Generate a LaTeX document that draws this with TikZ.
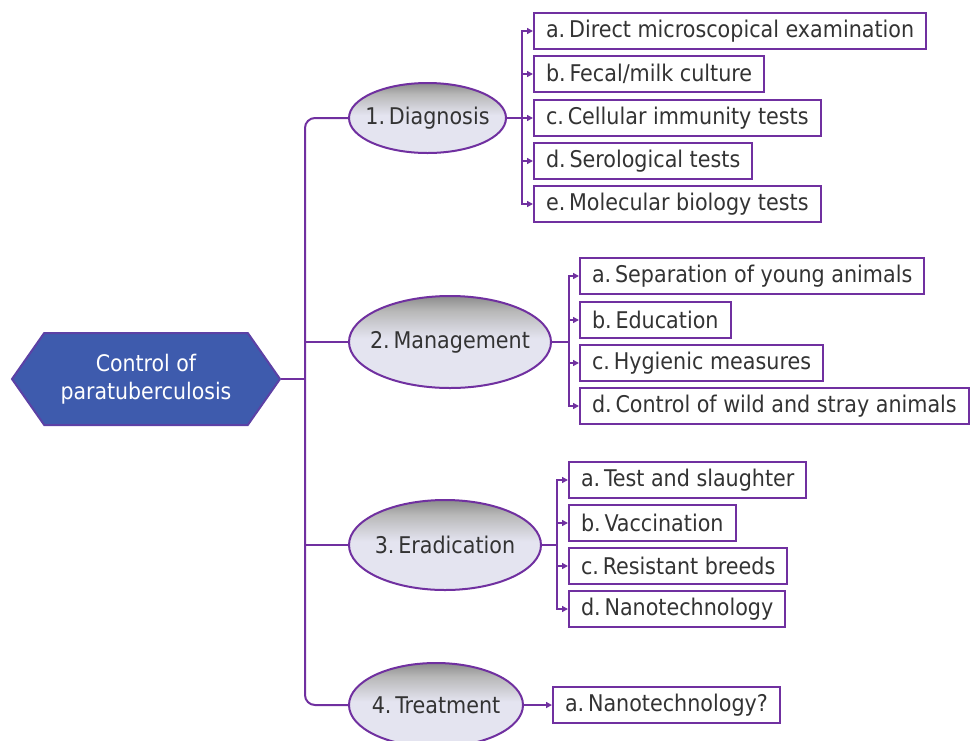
\documentclass[tikz,border=0pt]{standalone}
\usepackage{fontspec}
\setmainfont{DejaVu Sans Condensed}
\usetikzlibrary{arrows.meta,positioning,shapes.geometric,shapes.symbols}
\definecolor{Purple}{HTML}{7030A0}
\definecolor{Navy}{HTML}{3E5BAD}
\definecolor{Lav}{HTML}{E4E4F0}
\definecolor{Ink}{HTML}{333333}
\pgfdeclareverticalshading{topicshade}{100bp}{color(0bp)=(Lav); color(25bp)=(Lav); color(52bp)=(Lav); color(67bp)=(black!28); color(75bp)=(black!45); color(100bp)=(black!45)}

\begin{document}
\begin{tikzpicture}[x=0.5pt,y=-0.5pt,font=\fontsize{11.5}{13.5}\selectfont,>={Triangle[length=3pt,width=3pt]}]
  \useasboundingbox (0,0) rectangle (974,740);
  \tikzset{
    topic/.style={ellipse,draw=Purple,line width=1pt,shading=topicshade,text=Ink,anchor=west,inner xsep=-14pt,inner ysep=-4pt},
    item/.style={draw=Purple,line width=1pt,fill=white,text=Ink,anchor=west,minimum height=18pt,inner xsep=6pt},
    link/.style={draw=Purple,line width=1pt},
  }
  % root
  \node[shape=signal,signal to=west and east,signal pointer angle=110,minimum width=134pt,minimum height=46pt,fill=Navy,draw=Purple!60!Navy,line width=1pt,text=white,align=center,inner sep=0pt,font=\fontsize{11.4}{14}\selectfont] (ctrl) at (146,379) {Control of\\paratuberculosis};
  % main topics
  \node[topic,minimum width=78.5pt,minimum height=35pt] (diag) at (348,118) {1.\,Diagnosis};
  \node[topic,minimum width=101pt,minimum height=46pt] (mgmt) at (348,342) {2.\,Management};
  \node[topic,minimum width=96pt,minimum height=45pt] (erad) at (348,545) {3.\,Eradication};
  \node[topic,minimum width=87pt,minimum height=42pt] (treat) at (348,705) {4.\,Treatment};
  % diagnosis items
  \node[item] (da) at (533,31) {a.\,Direct microscopical examination};
  \node[item] (db) at (533,74) {b.\,Fecal/milk culture};
  \node[item] (dc) at (533,118) {c.\,Cellular immunity tests};
  \node[item] (dd) at (533,161) {d.\,Serological tests};
  \node[item] (de) at (533,204) {e.\,Molecular biology tests};
  % management items
  \node[item] (ma) at (579,276) {a.\,Separation of young animals};
  \node[item] (mb) at (579,320) {b.\,Education};
  \node[item] (mc) at (579,363) {c.\,Hygienic measures};
  \node[item] (md) at (579,406) {d.\,Control of wild and stray animals};
  % eradication items
  \node[item] (ea) at (568,480) {a.\,Test and slaughter};
  \node[item] (eb) at (568,523) {b.\,Vaccination};
  \node[item] (ec) at (568,566) {c.\,Resistant breeds};
  \node[item] (ed) at (568,609) {d.\,Nanotechnology};
  % treatment item
  \node[item] (ta) at (552,705) {a.\,Nanotechnology?};
  % trunk
  \coordinate (hub) at (305,379);
  \draw[link] (ctrl.east) -- (hub);
  \draw[link,rounded corners=5pt] (diag.west) -| (hub) |- (treat.west);
  \draw[link] (hub |- mgmt.west) -- (mgmt.west);
  \draw[link] (hub |- erad.west) -- (erad.west);
  % branches
  \coordinate (dbar) at (522,118);
  \coordinate (mbar) at (569,342);
  \coordinate (ebar) at (557,545);
  \draw[link] (diag.east) -- (dbar);
  \draw[link] (mgmt.east) -- (mbar);
  \draw[link] (erad.east) -- (ebar);
  \foreach \b in {da,db,dc,dd,de} \draw[link,->] (dbar) |- (\b.west);
  \foreach \b in {ma,mb,mc,md} \draw[link,->] (mbar) |- (\b.west);
  \foreach \b in {ea,eb,ec,ed} \draw[link,->] (ebar) |- (\b.west);
  \draw[link,->] (treat.east) -- (ta.west);
\end{tikzpicture}
\end{document}
